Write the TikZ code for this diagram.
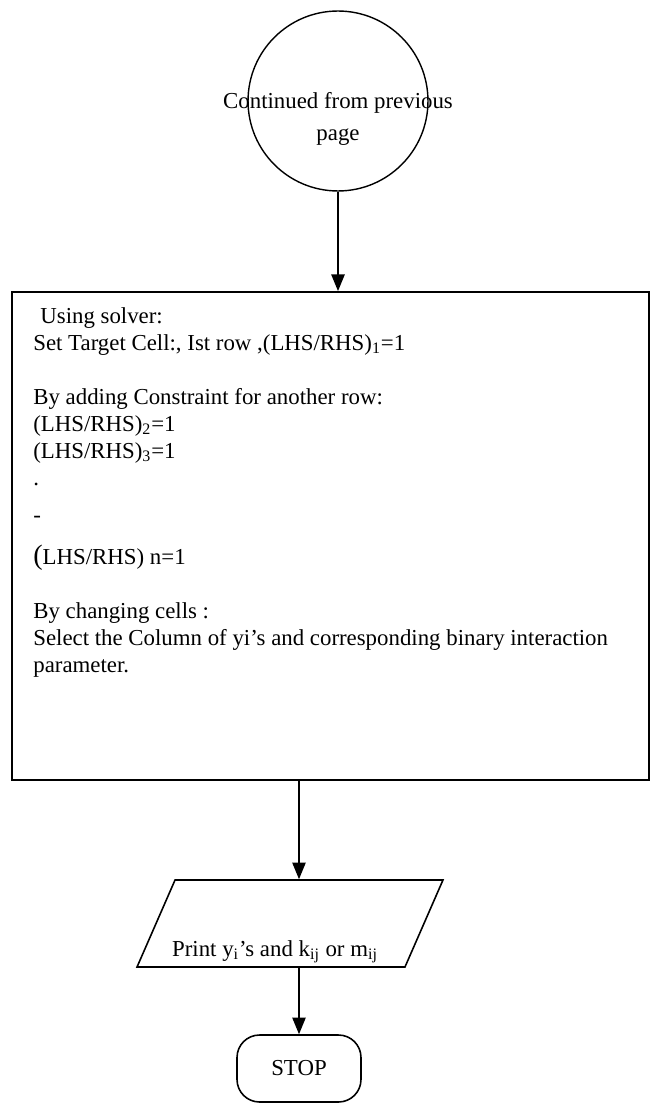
\documentclass[tikz,border=0pt]{standalone}
\usepackage{fontspec}
\setmainfont{Liberation Serif}
\usetikzlibrary{shapes.geometric,arrows.meta,positioning}
\tikzset{
    flow line/.style={% connectors with filled tips
        line width=0.9pt, -{Triangle[width=7.6pt,length=9.5pt]}},
    term circ/.style={% off-page connector (text set apart)
        draw, circle, line width=0.8pt, minimum size=3.6cm, inner sep=0pt},
    proc box/.style={% big process rectangle (without text)
        draw, rectangle, line width=1.1pt, minimum width=12.74cm, minimum height=9.76cm},
    io box/.style={% parallelogram for output
        draw, trapezium, trapezium left angle=66.4, trapezium right angle=113.6,
        trapezium stretches body, line width=0.9pt,
        minimum width=6.12cm, inner xsep=0pt, inner ysep=0.87cm},
    stop box/.style={% terminator
        draw, rectangle, rounded corners=0.45cm, line width=0.9pt,
        minimum width=2.48cm, minimum height=1.34cm},
    flow text/.style={% all texts
        inner sep=0pt, font=\fontsize{13pt}{15.4pt}\selectfont}
}

\begin{document}
\begin{tikzpicture}[x=0.02cm, y=-0.02cm]
\useasboundingbox (0,0) rectangle (653,1104);
\node[term circ] at (338,101) (cont) {};
\node[flow text, align=center] at (338,119) (conttext) {Continued from previous\\[2.6pt]page};
\node[proc box] at (330.5,536) (solver) {};
\node[flow text, anchor=north west, align=left] at (33,307) (solvertext) {%
\hspace*{4pt}Using solver:\\
Set Target Cell:, Ist row ,(LHS/RHS)\textsubscript{1}=1\\[15.4pt]
By adding Constraint for another row:\\
(LHS/RHS)\textsubscript{2}=1\\
(LHS/RHS)\textsubscript{3}=1\\
.\\[5.7pt]
-\\[8.5pt]
{\fontsize{16pt}{15.4pt}\selectfont(}LHS/RHS) n=1\\[15.4pt]
By changing cells :\\
Select the Column of yi's and corresponding binary interaction\\
parameter.};
\node[io box] at (290,923.5) (print) {};
\node[flow text] at (275,952) (printtext) {Print y\textsubscript{i}'s and k\textsubscript{ij} or m\textsubscript{ij}};
\node[stop box, flow text] at (299,1068.5) (stop) {STOP};
\draw[flow line] (cont.south) -- (cont.south |- solver.north);
\draw[flow line] (solver.south -| stop.north) -- (stop.north |- print.north);
\draw[flow line] (print.south -| stop.north) -- (stop.north);
\end{tikzpicture}
\end{document}
